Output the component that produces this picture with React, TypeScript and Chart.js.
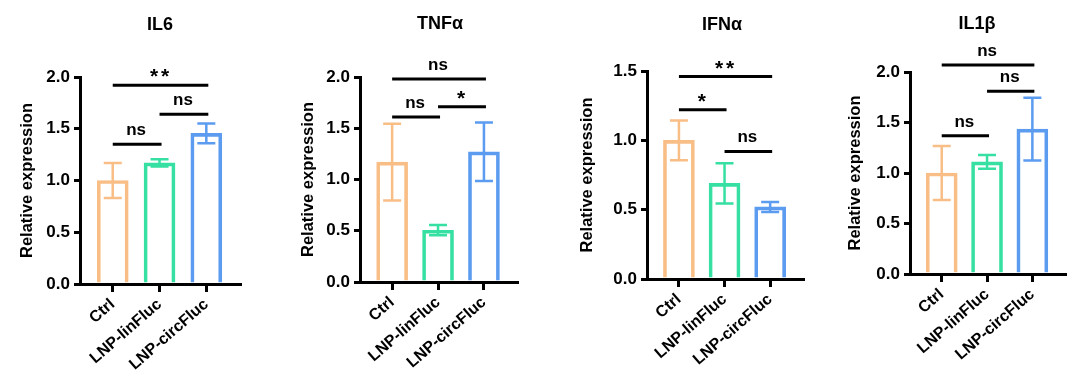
import React, { useEffect, useRef } from "react";
import { Chart, registerables } from "chart.js";
Chart.register(...registerables);

// ---- data ----
const categories = ["Ctrl", "LNP-linFluc", "LNP-circFluc"];
const barColors = ["#F8BE86", "#36E0A2", "#5B9BF0"];

const il6Values = [1.0, 1.17, 1.455];
const il6Errors = [0.17, 0.035, 0.095];
const il6Sig = [
  { from: 0, to: 2, y: 1.92, label: "**" },
  { from: 1, to: 2, y: 1.64, label: "ns" },
  { from: 0, to: 1, y: 1.35, label: "ns" },
];

const tnfValues = [1.17, 0.505, 1.27];
const tnfErrors = [0.375, 0.05, 0.285];
const tnfSig = [
  { from: 0, to: 2, y: 1.98, label: "ns" },
  { from: 1, to: 2, y: 1.71, label: "*" },
  { from: 0, to: 1, y: 1.61, label: "ns" },
];

const ifnValues = [1.0, 0.69, 0.52];
const ifnErrors = [0.143, 0.145, 0.036];
const ifnSig = [
  { from: 0, to: 2, y: 1.46, label: "**" },
  { from: 0, to: 1, y: 1.22, label: "*" },
  { from: 1, to: 2, y: 0.92, label: "ns" },
];

const il1bValues = [1.0, 1.11, 1.435];
const il1bErrors = [0.267, 0.068, 0.31];
const il1bSig = [
  { from: 0, to: 2, y: 2.07, label: "ns" },
  { from: 1, to: 2, y: 1.81, label: "ns" },
  { from: 0, to: 1, y: 1.37, label: "ns" },
];

const yTicks2 = [0, 0.5, 1.0, 1.5, 2.0];
const yTicks15 = [0, 0.5, 1.0, 1.5];

const FONT = "Arial, 'Liberation Sans', Helvetica, sans-serif";

type Sig = { from: number; to: number; y: number; label: string };
type PanelProps = {
  title: string;
  values: number[];
  errors: number[];
  sig: Sig[];
  yMax: number;
  yTicks: number[];
  // layout
  left: number;
  right: number;
  top: number;
  bottom: number;
  titleX: number;
  titleY: number;
  yTitleX: number;
};

function Panel(p: PanelProps) {
  const ref = useRef<HTMLCanvasElement>(null);
  useEffect(() => {
    if (!ref.current) return;
    const W = 270;
    const H = 380;
    const overlay = {
      id: "overlay",
      afterDatasetsDraw(chart: any) {
        const ctx = chart.ctx;
        const xs = chart.scales.x;
        const ys = chart.scales.y;
        ctx.save();
        // error bars
        p.values.forEach((v, i) => {
          const x = xs.getPixelForValue(i);
          const yt = ys.getPixelForValue(v + p.errors[i]);
          const yb = ys.getPixelForValue(v - p.errors[i]);
          ctx.strokeStyle = barColors[i];
          ctx.lineWidth = 2.5;
          ctx.beginPath();
          ctx.moveTo(x, yt);
          ctx.lineTo(x, yb);
          ctx.moveTo(x - 9, yt);
          ctx.lineTo(x + 9, yt);
          ctx.moveTo(x - 9, yb);
          ctx.lineTo(x + 9, yb);
          ctx.stroke();
        });
        ctx.restore();
      },
      afterDraw(chart: any) {
        const ctx = chart.ctx;
        const xs = chart.scales.x;
        const ys = chart.scales.y;
        ctx.save();
        // significance brackets
        p.sig.forEach((s) => {
          const x1 = xs.getPixelForValue(s.from);
          const x2 = xs.getPixelForValue(s.to);
          const y = ys.getPixelForValue(s.y);
          ctx.strokeStyle = "#000";
          ctx.lineWidth = 3;
          ctx.beginPath();
          ctx.moveTo(x1, y);
          ctx.lineTo(x2 + 2, y);
          ctx.stroke();
          ctx.fillStyle = "#000";
          ctx.textAlign = "center";
          ctx.textBaseline = "alphabetic";
          const isStar = s.label.indexOf("*") >= 0;
          if (isStar) {
            ctx.font = `bold 21px ${FONT}`;
            const n = s.label.length;
            const gap = 11;
            const cx = (x1 + x2) / 2;
            for (let k = 0; k < n; k++) {
              ctx.fillText("*", cx + (k - (n - 1) / 2) * gap, y - 2);
            }
          } else {
            ctx.font = `bold 17px ${FONT}`;
            ctx.fillText(s.label, (x1 + x2) / 2, y - 9);
          }
        });
        // title
        ctx.fillStyle = "#000";
        ctx.font = `bold 18px ${FONT}`;
        ctx.textAlign = "center";
        ctx.textBaseline = "middle";
        ctx.fillText(p.title, p.titleX, p.titleY);
        ctx.restore();
      },
    };

    const chart = new Chart(ref.current, {
      type: "bar",
      data: {
        datasets: [
          {
            data: p.values.map((v, i) => ({ x: i, y: v })),
            backgroundColor: "rgba(255,255,255,0)",
            borderColor: barColors,
            borderWidth: 3,
            barThickness: 31,
            borderSkipped: "start",
          } as any,
        ],
      },
      options: {
        responsive: false,
        animation: false,
        events: [],
        layout: {
          padding: { left: 0, top: p.top, right: W - p.right, bottom: 0 },
        },
        plugins: {
          legend: { display: false },
          tooltip: { enabled: false },
          title: { display: false },
        },
        scales: {
          x: {
            type: "linear",
            min: -0.7,
            max: 2.72,
            offset: false,
            afterBuildTicks: (axis: any) => {
              axis.ticks = categories.map((_, i) => ({ value: i }));
            },
            afterFit: (scale: any) => {
              scale.height = H - p.bottom;
            },
            border: { display: true, color: "#000", width: 3 },
            grid: {
              display: true,
              drawOnChartArea: false,
              drawTicks: true,
              tickLength: 8,
              color: "#000",
              lineWidth: 3,
              offset: false,
            },
            ticks: {
              autoSkip: false,
              minRotation: 41,
              maxRotation: 41,
              padding: 3,
              color: "#000",
              font: { family: FONT, size: 16, weight: "bold" },
              callback: (v: any) => categories[v as number] ?? "",
            },
          } as any,
          y: {
            type: "linear",
            min: 0,
            max: p.yMax,
            afterBuildTicks: (axis: any) => {
              axis.ticks = p.yTicks.map((v) => ({ value: v }));
            },
            afterFit: (scale: any) => {
              scale.width = p.left;
            },
            border: { display: true, color: "#000", width: 3 },
            grid: {
              display: true,
              drawOnChartArea: false,
              drawTicks: true,
              tickLength: 6,
              color: "#000",
              lineWidth: 3,
            },
            ticks: {
              padding: 4,
              color: "#000",
              font: { family: FONT, size: 17, weight: "bold" },
              callback: (v: any) => Number(v).toFixed(1),
            },
            title: {
              display: true,
              text: "Relative expression",
              color: "#000",
              font: { family: FONT, size: 16.5, weight: "bold" },
              padding: { top: p.yTitleX - 9.9, bottom: 0 },
            },
          } as any,
        },
      },
      plugins: [overlay],
    });
    return () => chart.destroy();
  }, []);
  return <canvas ref={ref} width={270} height={380} style={{ display: "block" }} />;
}

const panels: PanelProps[] = [
  { title: "IL6", values: il6Values, errors: il6Errors, sig: il6Sig, yMax: 2, yTicks: yTicks2,
    left: 80, right: 240, top: 77, bottom: 284, titleX: 160, titleY: 25, yTitleX: 27 },
  { title: "TNFα", values: tnfValues, errors: tnfErrors, sig: tnfSig, yMax: 2, yTicks: yTicks2,
    left: 90, right: 247, top: 77, bottom: 282, titleX: 170, titleY: 24, yTitleX: 38 },
  { title: "IFNα", values: ifnValues, errors: ifnErrors, sig: ifnSig, yMax: 1.5, yTicks: yTicks15,
    left: 107, right: 263, top: 71, bottom: 279, titleX: 182, titleY: 25, yTitleX: 47 },
  { title: "IL1β", values: il1bValues, errors: il1bErrors, sig: il1bSig, yMax: 2, yTicks: yTicks2,
    left: 100, right: 255, top: 72, bottom: 274, titleX: 167, titleY: 24, yTitleX: 45 },
];

export default function App() {
  return (
    <div style={{ position: "absolute", left: 0, top: 0, width: 1080, height: 380, background: "#fff" }}>
      {panels.map((p, i) => (
        <div key={i} style={{ position: "absolute", left: i * 270, top: 0, width: 270, height: 380 }}>
          <Panel {...p} />
        </div>
      ))}
    </div>
  );
}
